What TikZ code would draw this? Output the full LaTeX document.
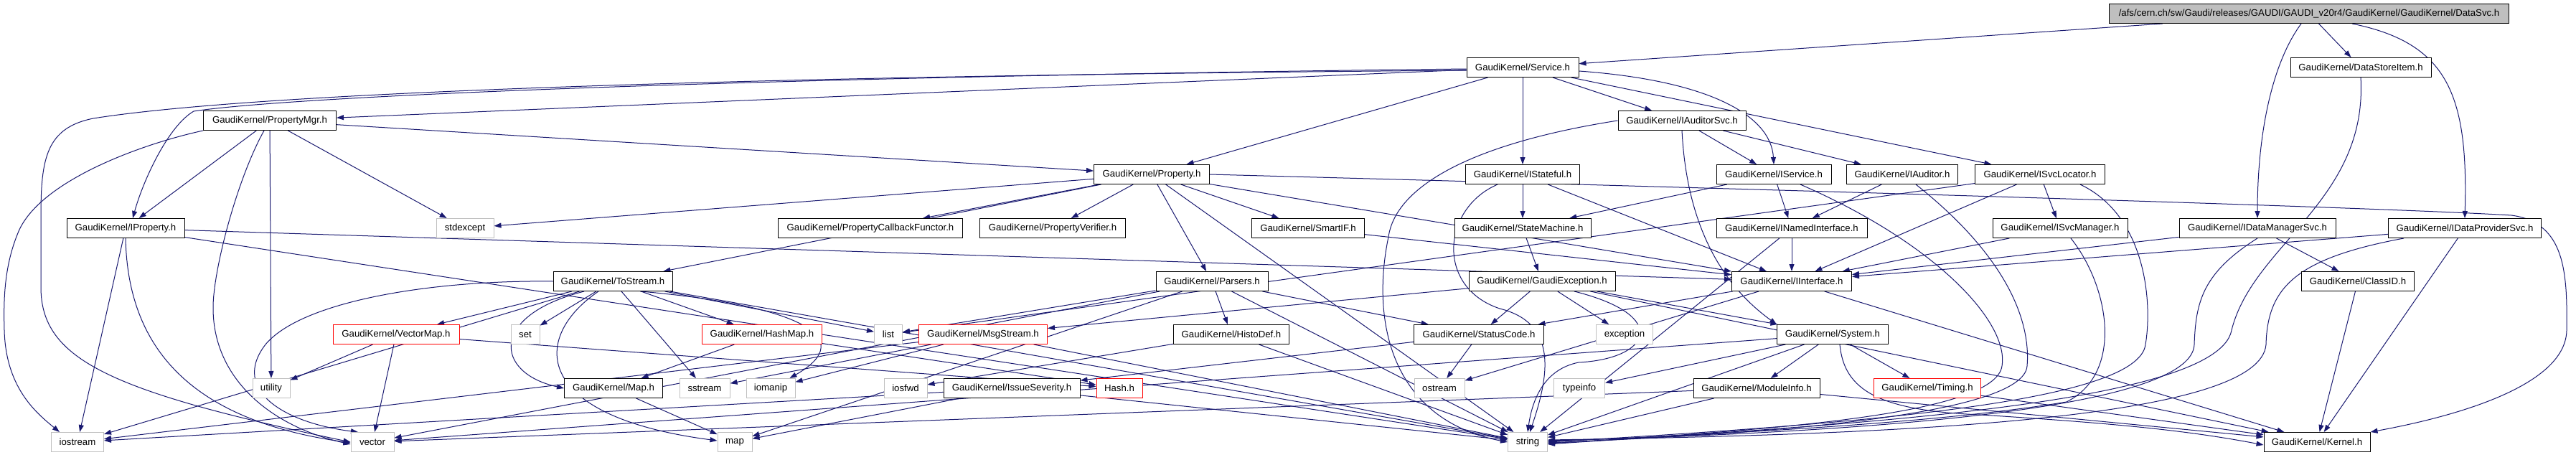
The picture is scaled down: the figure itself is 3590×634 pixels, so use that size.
\documentclass[tikz,border=0pt]{standalone}
\usepackage{fontspec}
\setmainfont{Liberation Sans}
\usetikzlibrary{arrows.meta}
\definecolor{edgeblue}{HTML}{191970}
\definecolor{sysgrey}{HTML}{BFBFBF}
\definecolor{rootgrey}{HTML}{BFBFBF}
\newcommand\labfont{\fontsize{13.2}{15}\selectfont}
\pgfdeclarelayer{bg}
\pgfsetlayers{bg,main}
\begin{document}
\begin{tikzpicture}[x=1pt,y=-1pt,
  box/.style={draw=black, fill=white, line width=1pt, minimum height=27pt, inner sep=0pt, font=\labfont, anchor=center},
  sysbox/.style={box, draw=sysgrey},
  redbox/.style={box, draw=red},
  rootbox/.style={box, fill=rootgrey},
  e/.style={draw=edgeblue, line width=1pt, -{Triangle[length=10pt,width=7pt]}}]
\useasboundingbox (0,0) rectangle (3590,634);
% row 0
\node[rootbox, minimum width=557pt] (root) at (3218,19) {/afs/cern.ch/sw/Gaudi/releases/GAUDI/GAUDI\_v20r4/GaudiKernel/GaudiKernel/DataSvc.h};
% row 1
\node[box, minimum width=156pt] (svc) at (2122,94) {GaudiKernel/Service.h};
\node[box, minimum width=196pt] (dsi) at (3290,94) {GaudiKernel/DataStoreItem.h};
% row 2
\node[box, minimum width=185pt] (pmgr) at (376,168) {GaudiKernel/PropertyMgr.h};
\node[box, minimum width=178pt] (iasvc) at (2344,168) {GaudiKernel/IAuditorSvc.h};
% row 3
\node[box, minimum width=161pt] (prop) at (1605,243) {GaudiKernel/Property.h};
\node[box, minimum width=159pt] (istat) at (2122,243) {GaudiKernel/IStateful.h};
\node[box, minimum width=160pt] (isvc) at (2472,243) {GaudiKernel/IService.h};
\node[box, minimum width=155pt] (iaud) at (2651,243) {GaudiKernel/IAuditor.h};
\node[box, minimum width=181pt] (isloc) at (2843,243) {GaudiKernel/ISvcLocator.h};
% row 4
\node[box, minimum width=164pt] (iprop) at (175,318) {GaudiKernel/IProperty.h};
\node[sysbox, minimum width=80pt] (stdexcept) at (648,318) {stdexcept};
\node[box, minimum width=257pt] (pcf) at (1213,318) {GaudiKernel/PropertyCallbackFunctor.h};
\node[box, minimum width=203pt] (pver) at (1467,318) {GaudiKernel/PropertyVerifier.h};
\node[box, minimum width=157pt] (smartif) at (1823,318) {GaudiKernel/SmartIF.h};
\node[box, minimum width=190pt] (sm) at (2122,318) {GaudiKernel/StateMachine.h};
\node[box, minimum width=210pt] (inif) at (2497,318) {GaudiKernel/INamedInterface.h};
\node[box, minimum width=188pt] (ismgr) at (2871,318) {GaudiKernel/ISvcManager.h};
\node[box, minimum width=218pt] (idms) at (3146,318) {GaudiKernel/IDataManagerSvc.h};
\node[box, minimum width=213pt] (idps) at (3435,318) {GaudiKernel/IDataProviderSvc.h};
% row 5
\node[box, minimum width=166pt] (tost) at (854,392) {GaudiKernel/ToStream.h};
\node[box, minimum width=156pt] (pars) at (1689,392) {GaudiKernel/Parsers.h};
\node[box, minimum width=204pt] (gex) at (2149,392) {GaudiKernel/GaudiException.h};
\node[box, minimum width=167pt] (iif) at (2497,392) {GaudiKernel/IInterface.h};
\node[box, minimum width=157pt] (classid) at (3286,392) {GaudiKernel/ClassID.h};
% row 6
\node[redbox, minimum width=176pt] (vmap) at (552,466) {GaudiKernel/VectorMap.h};
\node[sysbox, minimum width=40pt] (stdset) at (732,466) {set};
\node[redbox, minimum width=167pt] (hmap) at (1062,466) {GaudiKernel/HashMap.h};
\node[sysbox, minimum width=39pt] (stdlist) at (1238,466) {list};
\node[redbox, minimum width=179pt] (msgs) at (1370,466) {GaudiKernel/MsgStream.h};
\node[box, minimum width=161pt] (hdef) at (1716,466) {GaudiKernel/HistoDef.h};
\node[box, minimum width=181pt] (sc) at (2061,466) {GaudiKernel/StatusCode.h};
\node[sysbox, minimum width=79pt] (exception) at (2264,466) {exception};
\node[box, minimum width=155pt] (system) at (2554,466) {GaudiKernel/System.h};
% row 7
\node[sysbox, minimum width=52pt] (utility) at (378,541) {utility};
\node[box, minimum width=137pt] (maph) at (855,541) {GaudiKernel/Map.h};
\node[sysbox, minimum width=70pt] (sstream) at (982,541) {sstream};
\node[sysbox, minimum width=68pt] (iomanip) at (1074,541) {iomanip};
\node[sysbox, minimum width=60pt] (iosfwd) at (1262,541) {iosfwd};
\node[box, minimum width=190pt] (isev) at (1410,541) {GaudiKernel/IssueSeverity.h};
\node[redbox, minimum width=64pt] (hash) at (1560,541) {Hash.h};
\node[sysbox, minimum width=70pt] (ostream) at (2006,541) {ostream};
\node[sysbox, minimum width=71pt] (typeinfo) at (2201,541) {typeinfo};
\node[box, minimum width=176pt] (modinfo) at (2448,541) {GaudiKernel/ModuleInfo.h};
\node[redbox, minimum width=149pt] (timing) at (2686,541) {GaudiKernel/Timing.h};
% row 8
\node[sysbox, minimum width=73pt] (iostream) at (108,616) {iostream};
\node[sysbox, minimum width=60pt] (stdvector) at (519,616) {vector};
\node[sysbox, minimum width=48pt] (stdmap) at (1024,616) {map};
\node[sysbox, minimum width=55pt] (stdstring) at (2129,616) {string};
\node[box, minimum width=148pt] (kernel) at (3229,616) {GaudiKernel/Kernel.h};

\begin{pgfonlayer}{bg}
\fill[white] (0,0) rectangle (3590,634);
\foreach \a/\b in {root/svc, root/dsi,
  svc/pmgr, svc/prop, svc/istat, svc/iasvc, svc/isloc,
  pmgr/iprop, pmgr/utility, pmgr/stdexcept, pmgr/prop,
  iprop/iostream, iprop/iif, iprop/stdstring,
  prop/tost, prop/stdexcept, prop/pcf, prop/pver, prop/pars, prop/smartif, prop/stdstring, prop/iif,
  tost/iostream, tost/vmap, tost/stdset, tost/hmap, tost/sstream, tost/stdlist, tost/stdstring,
  vmap/utility, vmap/stdvector, vmap/hash,
  hmap/maph, hmap/hash, maph/stdmap,
  pars/stdlist, pars/hdef, pars/sc, pars/stdstring, pars/stdvector, pars/stdmap,
  msgs/iostream, msgs/sstream, msgs/iomanip, msgs/stdstring,
  hdef/iosfwd, hdef/stdstring,
  sc/ostream, sc/isev,
  isev/iostream, isev/stdmap, isev/stdstring,
  gex/msgs, gex/sc, gex/exception, gex/system, gex/kernel,
  system/modinfo, system/timing, system/typeinfo, system/stdstring, system/stdvector,
  iif/kernel, iif/sc, iif/ostream,
  inif/iif, inif/stdstring,
  isvc/inif, isvc/sm, iaud/inif,
  iasvc/isvc, iasvc/iaud,
  isloc/iif, isloc/ismgr, isloc/stdlist,
  ismgr/iif, istat/sm, istat/iif, sm/gex, smartif/iif,
  idms/iif, idms/classid, idps/iif, idps/kernel, classid/kernel,
  modinfo/kernel, modinfo/stdstring, modinfo/stdvector, timing/kernel}
  \draw[e] (\a) -- (\b);
\draw[e] ([xshift=-11pt]root.south) .. controls (3165,90) and (3146,190) .. (idms.north);
\draw[e] ([xshift=60pt]root.south) .. controls (3410,60) and (3440,130) .. (idps.north);
\draw[e] ([yshift=-2pt]svc.west) .. controls (1000,108) and (400,135) .. (270,155) .. controls (235,175) and (200,250) .. ([xshift=10pt]iprop.north);
\draw[e] ([yshift=-4pt]svc.west) .. controls (1000,106) and (350,130) .. (130,165) .. controls (65,178) and (57,220) .. (57,300) -- (57,400) .. controls (57,500) and (150,545) .. (stdvector.west);
\draw[e] ([yshift=-5pt]svc.east) .. controls (2380,112) and (2468,160) .. (isvc.north);
\draw[e] (dsi.south) .. controls (3300,280) and (3140,340) .. (3110,460) .. controls (3090,570) and (2500,595) .. ([yshift=-3pt]stdstring.east);
\draw[e] (pmgr.south west) .. controls (200,200) and (60,250) .. (27,320) .. controls (5,370) and (5,420) .. (6,460) .. controls (8,540) and (50,575) .. ([xshift=-25pt]iostream.north);
\draw[e] ([xshift=-8pt]pmgr.south) .. controls (330,250) and (296,380) .. (297,431) .. controls (298,530) and (380,595) .. ([yshift=-3pt]stdvector.west);
\draw[e] (iprop.south) .. controls (178,480) and (260,585) .. ([yshift=-1pt]stdvector.west);
\draw[e] (prop.east) .. controls (2400,262) and (3300,288) .. (3500,300) .. controls (3575,310) and (3578,380) .. (3577,460) .. controls (3576,530) and (3450,575) .. (kernel.north east);
\draw[e] (tost.west) .. controls (600,390) and (420,420) .. (370,480) .. controls (320,545) and (400,590) .. ([xshift=-20pt]stdvector.north);
\draw[e] ([xshift=-40pt]tost.south) .. controls (680,440) and (690,520) .. (maph.west);
\draw[e] ([xshift=-20pt]tost.south) .. controls (740,470) and (740,580) .. ([yshift=2pt]stdmap.west);
\draw[e] ([xshift=-45pt]tost.south east) .. controls (1110,425) and (1200,470) .. ([xshift=-8pt]iomanip.north east);
\draw[e] (iasvc.west) .. controls (2050,200) and (1945,260) .. (1935,330) .. controls (1910,450) and (1940,585) .. (stdstring.west);
\draw[e] (iasvc.south) .. controls (2350,300) and (2390,390) .. (system.north west);
\draw[e] ([xshift=-35pt]istat.south) .. controls (2010,290) and (2000,400) .. (2090,430) .. controls (2170,450) and (2160,520) .. ([xshift=3pt]stdstring.north);
\draw[e] ([xshift=37pt]isvc.south) .. controls (2700,340) and (2800,450) .. (2790,510) .. controls (2780,580) and (2450,600) .. ([yshift=-2pt]stdstring.east);
\draw[e] ([xshift=19pt]iaud.south) .. controls (2800,360) and (2830,450) .. (2825,510) .. controls (2820,580) and (2450,605) .. ([yshift=-1pt]stdstring.east);
\draw[e] ([xshift=-35pt]isloc.south east) .. controls (2990,300) and (3000,420) .. (2990,480) .. controls (2980,560) and (2600,590) .. (stdstring.east);
\draw[e] ([xshift=15pt]ismgr.south) .. controls (2940,400) and (2960,520) .. (2880,560) .. controls (2700,590) and (2400,605) .. ([yshift=1pt]stdstring.east);
\draw[e] (idms.south) .. controls (3070,380) and (3060,420) .. (3058,480) .. controls (3055,560) and (2700,600) .. ([yshift=2pt]stdstring.east);
\draw[e] ([xshift=-85pt]idps.south) .. controls (3200,360) and (3160,400) .. (3158,480) .. controls (3150,580) and (2700,605) .. ([yshift=3pt]stdstring.east);
\draw[e] ([xshift=10pt]system.south) .. controls (2570,545) and (2620,572) .. (2760,578) .. controls (2950,590) and (3050,600) .. ([yshift=-4pt]kernel.west);
\draw[e] ([xshift=45pt]gex.south) .. controls (2330,440) and (2300,500) .. (2200,505) .. controls (2150,515) and (2135,560) .. (stdstring.north);
\end{pgfonlayer}
\end{tikzpicture}
\end{document}
